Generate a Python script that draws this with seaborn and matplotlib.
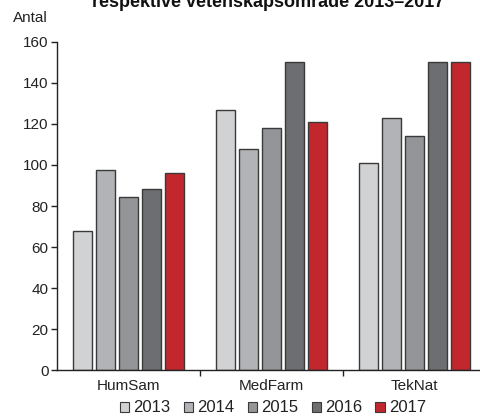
import matplotlib
matplotlib.use("Agg")
import matplotlib.pyplot as plt
import seaborn as sns
import pandas as pd
from matplotlib.patches import Patch

categories = ["HumSam", "MedFarm", "TekNat"]
years = ["2013", "2014", "2015", "2016", "2017"]
values_2013 = [68, 127, 101]
values_2014 = [97.5, 108, 123]
values_2015 = [84.5, 118, 114]
values_2016 = [88.5, 150, 150]
values_2017 = [96, 121, 150]
yticks = [0, 20, 40, 60, 80, 100, 120, 140, 160]
palette = ["#d1d2d4", "#b1b3b6", "#939598", "#6d6e71", "#c1272d"]

series = [values_2013, values_2014, values_2015, values_2016, values_2017]
rows = []
for y, vals in zip(years, series):
    for c, v in zip(categories, vals):
        rows.append({"Område": c, "År": y, "Antal": v})
df = pd.DataFrame(rows)

sns.set_theme(style="white")
plt.rcParams["font.family"] = ["Liberation Sans", "DejaVu Sans"]

W, H = 480, 418
fig = plt.figure(figsize=(W / 100, H / 100), dpi=100)
ax = fig.add_axes([57 / W, 1 - 370.3 / H, (W - 57) / W, (370.3 - 41.8) / H])

sns.barplot(data=df, x="Område", y="Antal", hue="År", order=categories,
            hue_order=years, palette=palette, width=0.805, gap=0.17,
            edgecolor="#3a3a3a", linewidth=1.0, saturation=1, ax=ax,
            legend=False)

ax.set_ylim(0, 160)
ax.set_xlim(-0.5, 2.458)
ax.set_yticks(yticks)
ax.set_yticklabels([str(t) for t in yticks])
ax.set_xlabel("")
ax.set_ylabel("")
for s in ["top", "right"]:
    ax.spines[s].set_visible(False)
for s in ["left", "bottom"]:
    ax.spines[s].set_color("#222222")
    ax.spines[s].set_linewidth(1.0)
ax.tick_params(axis="y", which="major", direction="out", length=4, width=1,
               color="#222222", labelsize=11, pad=2, left=True, labelcolor="#222222")
ax.tick_params(axis="x", which="major", length=0, labelsize=11, pad=6,
               labelcolor="#222222")
ax.set_xticks([0.5, 1.5], minor=True)
ax.tick_params(axis="x", which="minor", direction="out", length=4, width=1,
               color="#222222", bottom=True)
ax.grid(False)

fig.text(30 / W, 1 - 18 / H, "Antal", ha="center", va="center", fontsize=11,
         color="#222222")
fig.text(268 / W, 1 - 7 / H, "respektive vetenskapsområde 2013–2017",
         ha="center", va="baseline", fontsize=13, fontweight="bold", color="#111111")

handles = [Patch(facecolor=c, edgecolor="#3a3a3a", linewidth=0.8, label=y)
           for c, y in zip(palette, years)]
fig.legend(handles=handles, loc="center", bbox_to_anchor=(273 / W, 1 - 408 / H),
           ncol=5, frameon=False, fontsize=12, handlelength=0.55,
           handleheight=0.55, handletextpad=0.25, columnspacing=0.8,
           borderaxespad=0, borderpad=0, labelcolor="#222222")

fig.savefig("out.png", dpi=100)
